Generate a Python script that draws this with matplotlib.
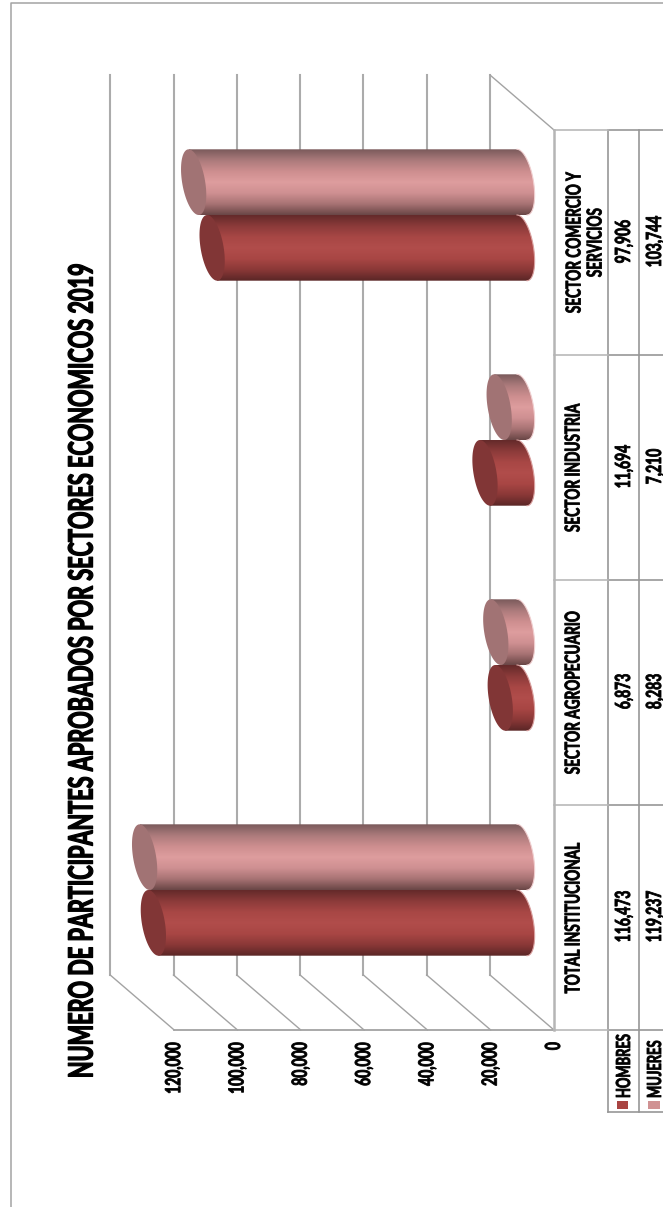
import numpy as np
import matplotlib
matplotlib.use('Agg')
import matplotlib.pyplot as plt
from matplotlib.colors import LinearSegmentedColormap
from matplotlib.patches import PathPatch, Polygon, Rectangle
from matplotlib.patheffects import AbstractPathEffect
from matplotlib.path import Path
from matplotlib.transforms import Affine2D

title = 'NUMERO DE PARTICIPANTES APROBADOS POR SECTORES ECONOMICOS 2019'
categories = ['TOTAL INSTITUCIONAL', 'SECTOR AGROPECUARIO', 'SECTOR INDUSTRIA',
              'SECTOR COMERCIO Y\nSERVICIOS']
hombres = [116473, 6873, 11694, 97906]
mujeres = [119237, 8283, 7210, 103744]
value_ticks = [0, 20000, 40000, 60000, 80000, 100000, 120000]

W, H = 663, 1207
FONT = 'Lato'
px_per_value = 63.3 / 20000
bar_h = 0.292          # category units
cap_a = 11.6 / px_per_value
cap_shear = 5 / px_per_value

grads = {
    'h': ['#642a2a', '#8c3b3a', '#a84745', '#b14d4b', '#a84644', '#8a3837', '#5a2626'],
    'm': ['#7a5a5b', '#ab7a7b', '#cd8e8f', '#de9d9e', '#cf9092', '#a87374', '#6a4646'],
}
cap_colors = {'h': '#813636', 'm': '#a17374'}
rim_colors = {'h': '#d9a09f', 'm': '#f0cfd0'}
swatches = {'h': '#a94442', 'm': '#d09293'}


class Widen(AbstractPathEffect):
    # the original font is a squashed Calibri, so stretch glyphs across the line
    def __init__(self, x, factor, stroke):
        super().__init__()
        self.x, self.factor, self.stroke = x, factor, stroke

    def draw_path(self, renderer, gc, tpath, affine, rgbFace=None):
        extra = Affine2D().translate(-self.x, 0).scale(self.factor, 1).translate(self.x, 0)
        gc0 = renderer.new_gc()
        gc0.copy_properties(gc)
        gc0.set_foreground('black')
        gc0.set_linewidth(self.stroke)
        renderer.draw_path(gc0, tpath, affine + extra, rgbFace)
        gc0.restore()


fig = plt.figure(figsize=(W / 100, H / 100), dpi=100)

# frame, walls and data table live in pixel coordinates
deco = fig.add_axes([0, 0, 1, 1])
deco.set_xlim(0, W)
deco.set_ylim(H, 0)
deco.axis('off')


def label(x, y, s, size, factor=1.5, stroke=0.6, va='center', **kw):
    t = deco.text(x, y, s, rotation=90, ha='center', va=va, family=FONT, weight='bold',
                  fontsize=size, color='black', **kw)
    t.set_path_effects([Widen(x, factor, stroke)])
    return t


grey = '#a3a3a3'
table_grey = '#979797'
deco.plot([10.5, 10.5, W], [H, 2.5, 2.5], color=grey, lw=1.1)

front_x0, back_x0 = 554, 490
floor_y, back_y = 1030, 975
top_front, top_back = 130, 75
for v in value_ticks:
    bx = back_x0 - v * px_per_value
    fx = front_x0 - v * px_per_value
    deco.plot([bx, bx], [top_back, back_y], color='#ababab', lw=1.5)
    deco.plot([bx, fx], [back_y, floor_y], color=grey, lw=1.0)
    label(fx, floor_y + 12, f'{v:,}', 10, va='top')
deco.plot([back_x0, front_x0], [top_back, top_front], color=grey, lw=1.0)
deco.plot([front_x0 - 120000 * px_per_value, front_x0], [floor_y, floor_y], color=grey, lw=1.3)

# table
row_h = 225
table_right = W
for col_x in [608, 639]:
    deco.plot([col_x, col_x], [top_front, 1112], color=table_grey, lw=1.2)
for i in range(5):
    y = floor_y - i * row_h
    deco.plot([608, table_right], [y, y], color=table_grey, lw=1.2)
    deco.plot([front_x0, 608], [y, y], color='#b9b9b9', lw=1.2)
deco.plot([608, table_right], [1112, 1112], color=table_grey, lw=1.2)
deco.plot([front_x0, front_x0], [top_front, floor_y], color='#b5b5b5', lw=1.8)

for i, cat in enumerate(categories):
    yc = floor_y - (i + 0.5) * row_h
    two_lines = '\n' in cat
    label(585 if two_lines else 573.5, yc, cat, 9.8, linespacing=1.2, multialignment='center')
    label(624, yc - 1, f'{hombres[i]:,}', 10)
    label(655, yc - 1, f'{mujeres[i]:,}', 10)

label(624, 1098, 'HOMBRES', 9.3, va='bottom')
label(655, 1098, 'MUJERES', 9.3, va='bottom')
deco.add_patch(Rectangle((617, 1101), 11, 7.5, color=swatches['h'], lw=0))
deco.add_patch(Rectangle((648, 1101), 12, 7.5, color=swatches['m'], lw=0))

label(82.5, 671, title, 15.6, factor=1.55, stroke=0.9)

# bars: value runs leftwards, category upwards, both through this axes' scales
ax = fig.add_axes([0, 0, 1, 1])
ax.patch.set_alpha(0)
ax.axis('off')
base_px, first_y, = 522, 890


def draw_bar(value, cat_pos, key):
    lo, hi = (cat_pos - bar_h, cat_pos) if key == 'h' else (cat_pos, cat_pos + bar_h)
    mid = (lo + hi) / 2
    half = (hi - lo) / 2
    t = np.linspace(-np.pi / 2, np.pi / 2, 40)
    # end discs lean with the 3D view, so the ellipse is sheared
    arc_x = -cap_a * np.cos(t) + cap_shear * np.sin(t)
    arc_y = mid + half * np.sin(t)
    verts = np.column_stack([np.r_[value - cap_shear, arc_x, value + cap_shear],
                             np.r_[lo, arc_y, hi]])
    clip = PathPatch(Path(verts), transform=ax.transData, fc='none', ec='none')
    ax.add_patch(clip)
    cmap = LinearSegmentedColormap.from_list('g' + key, grads[key])
    im = ax.imshow(np.linspace(0, 1, 128).reshape(-1, 1), cmap=cmap, aspect='auto',
                   extent=[value + cap_shear, -2 * cap_a, hi, lo], origin='lower', zorder=2,
                   interpolation='bilinear')
    im.set_clip_path(clip)
    ax.plot(arc_x, arc_y, color=rim_colors[key], lw=0.8, zorder=3)
    t2 = np.linspace(0, 2 * np.pi, 80)
    cap = np.column_stack([value + cap_a * np.cos(t2) + cap_shear * np.sin(t2),
                           mid + half * np.sin(t2)])
    ax.add_patch(Polygon(cap, closed=True, fc=cap_colors[key], ec='none', zorder=3))


for i in range(len(categories)):
    draw_bar(hombres[i], i, 'h')
    draw_bar(mujeres[i], i, 'm')

ax.set_xlim(base_px / px_per_value, (base_px - W) / px_per_value)
ax.set_ylim((first_y - H) / row_h, first_y / row_h)

fig.savefig('out.png', dpi=100)
